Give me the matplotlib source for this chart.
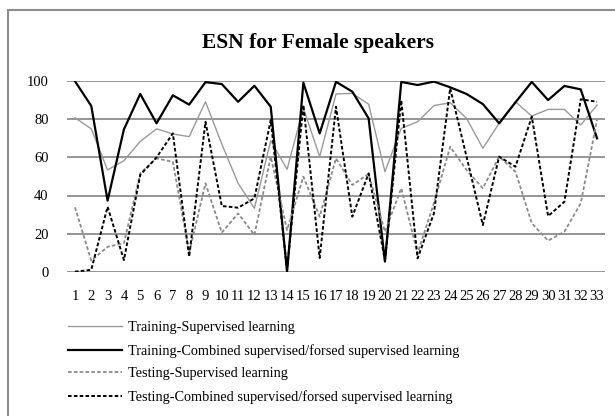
import matplotlib
matplotlib.use("Agg")
import matplotlib.pyplot as plt
from matplotlib.patches import Rectangle
import numpy as np

plt.rcParams['font.family'] = ['Liberation Serif', 'DejaVu Serif']
plt.rcParams['lines.scale_dashes'] = False

# ---------------- data ----------------
speakers = list(range(1, 34))

train_sup = [80.8, 75, 53.4, 58.3, 68.4, 75, 72.3, 70.9, 89.2, 67, 46.4, 33.3, 68.8,
             53.7, 85.8, 60.4, 93.3, 93.6, 87.9, 52.5, 75.3, 78.7, 87.2, 88.7, 80.5,
             64.8, 77.9, 89.2, 81.7, 85.2, 85.2, 77, 87.5]

train_comb = [100, 87, 37.3, 74.7, 93.3, 77.9, 92.6, 87.7, 99.5, 98.5, 89.2, 97.6, 86.6,
              0, 99.2, 72.6, 99.7, 94.5, 80.5, 5.3, 99.6, 98, 99.8, 96.8, 93.3,
              88, 77.9, 88.9, 99.6, 90.1, 97.5, 95.7, 70]

test_sup = [33.8, 5.8, 13.1, 14.9, 51.6, 59.5, 57.7, 10, 46.4, 20.5, 30.6, 19.3, 60.4,
            21.9, 49.9, 28.9, 59.5, 45.5, 51.3, 21, 43.8, 9.6, 36, 65.6, 53.4,
            43.8, 60.4, 52.5, 25.4, 16.3, 21, 35.9, 79.6]

test_comb = [0, 1, 34.1, 6.1, 50.8, 60, 72.6, 7.9, 78.7, 34.5, 33.6, 38.5, 79.6,
             1, 87.5, 7.2, 86.6, 28.9, 51.6, 6, 90, 7, 30.6, 96.3, 60.4,
             24.5, 60.4, 55.1, 81.4, 29.2, 36.7, 90.5, 89.2]

labels = ['Training-Supervised learning',
          'Training-Combined supervised/forsed supervised learning',
          'Testing-Supervised learning',
          'Testing-Combined supervised/forsed supervised learning']

# ---------------- figure ----------------
fig = plt.figure(figsize=(6.15, 4.16), dpi=100)
W, H = 615, 416

# chart border
fig.patches.append(Rectangle((8 / W, -0.05), 1.0, 1 - 10 / H + 0.05,
                             transform=fig.transFigure, fill=False,
                             edgecolor='#8c8c8c', linewidth=1.5))

ax = fig.add_axes([66.8 / W, 1 - 271.7 / H, 538.4 / W, 190.5 / H])

l1, = ax.plot(speakers, train_sup, color='#9a9a9a', linewidth=1.0)
l2, = ax.plot(speakers, train_comb, color='black', linewidth=1.6)
l3, = ax.plot(speakers, test_sup, color='#8a8a8a', linewidth=1.3, dashes=(2.6, 1.6))
l4, = ax.plot(speakers, test_comb, color='black', linewidth=1.4, dashes=(2.6, 1.6))

ax.set_xlim(0.5, 33.5)
ax.set_ylim(0, 100)
ax.set_yticks(np.arange(0, 101, 20))
ax.set_xticks(speakers)
ax.set_xticklabels([str(s) for s in speakers])
ax.grid(axis='y', color='#8c8c8c', linewidth=1.3)
ax.set_axisbelow(True)
for s in ['top', 'right', 'left', 'bottom']:
    ax.spines[s].set_visible(False)
ax.tick_params(axis='both', length=0, labelsize=10.5)
ax.tick_params(axis='y', pad=13)
ax.tick_params(axis='x', pad=13)

fig.text(318 / W, 1 - 43 / H, 'ESN for Female speakers', ha='center', va='center',
         fontsize=15.5, fontweight='bold')

fig.legend([l1, l2, l3, l4], labels, loc='upper left',
           bbox_to_anchor=(68 / W, 1 - 321 / H), frameon=False, fontsize=10.3,
           handlelength=3.8, handletextpad=0.4, labelspacing=0.68, borderpad=0,
           borderaxespad=0)

fig.savefig('out.png', dpi=100)
